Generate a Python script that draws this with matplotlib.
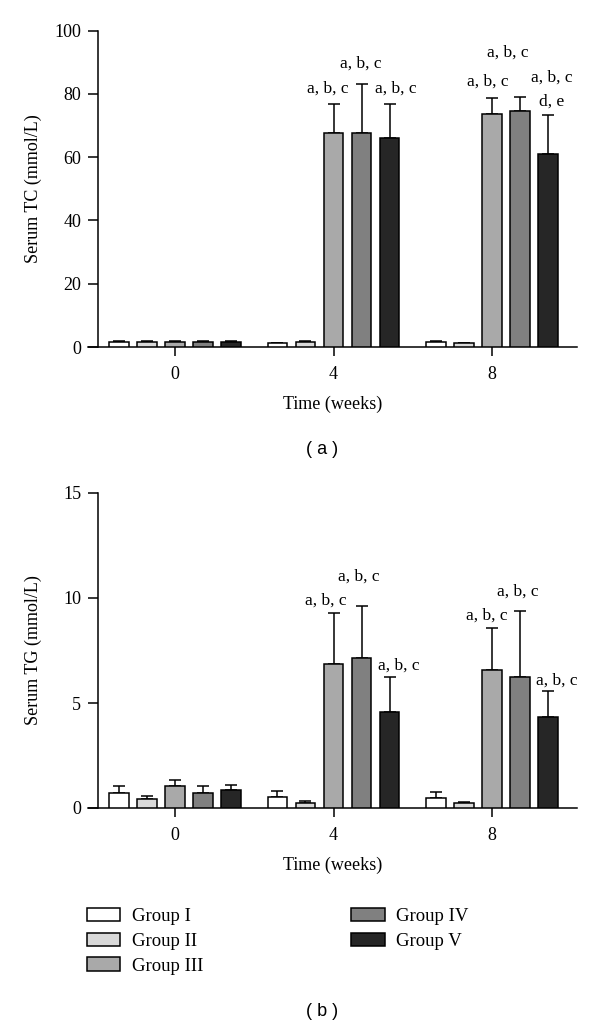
import numpy as np
import matplotlib
matplotlib.use("Agg")
import matplotlib.pyplot as plt
from matplotlib.patches import Patch

plt.rcParams['font.family'] = ['Liberation Serif', 'DejaVu Serif']

# ---------------- data ----------------
weeks = ["0", "4", "8"]
groups = ["Group I", "Group II", "Group III", "Group IV", "Group V"]
colors = ["#ffffff", "#d9d9d9", "#a9a9a9", "#808080", "#262626"]

# Serum TC (mmol/L): rows = weeks, cols = groups
tc_mean = [[1.7, 1.7, 1.7, 1.7, 1.7],
           [1.2, 1.6, 67.7, 67.7, 66.2],
           [1.6, 1.2, 73.8, 74.5, 61.0]]
tc_err = [[0.3, 0.3, 0.3, 0.3, 0.3],
          [0.2, 0.3, 9.2, 15.3, 10.7],
          [0.3, 0.2, 4.8, 4.5, 12.2]]
tc_labels = [[None, None, None, None, None],
             [None, None, "a, b, c", "a, b, c", "a, b, c"],
             [None, None, "a, b, c", "a, b, c", "a, b, c\nd, e"]]

# Serum TG (mmol/L)
tg_mean = [[0.73, 0.41, 1.03, 0.73, 0.87],
           [0.51, 0.25, 6.87, 7.15, 4.55],
           [0.46, 0.24, 6.57, 6.23, 4.32]]
tg_err = [[0.34, 0.18, 0.29, 0.32, 0.21],
          [0.32, 0.10, 2.41, 2.47, 1.67],
          [0.30, 0.06, 2.02, 3.15, 1.26]]
tg_labels = [[None, None, None, None, None],
             [None, None, "a, b, c", "a, b, c", "a, b, c"],
             [None, None, "a, b, c", "a, b, c", "a, b, c"]]

# label placement (gap above error bar as axis fraction; horizontal shift in x units)
tc_gap = [[0, 0, 0, 0, 0], [0.047, 0.065, 0.047], [0.054, 0.14, 0.044]]
tc_dx = [[0, 0, 0, 0, 0], [-0.036, -0.005, 0.041], [-0.027, -0.077, 0.024]]
tg_gap = [[0, 0, 0, 0, 0], [0.040, 0.094, 0.038], [0.037, 0.062, 0.032]]
tg_dx = [[0, 0, 0, 0, 0], [-0.048, -0.019, 0.06], [-0.036, -0.017, 0.056]]

W, H = 600, 1026
fig = plt.figure(figsize=(W / 100, H / 100), dpi=100)

bar_w = 0.123
step = 0.177
x_left, x_right = -0.549, 2.536
spine_x = -0.486


def make_panel(ax, mean, err, labels, gaps, dxs, ymax, yticks, ylabel):
    mean = np.array(mean)
    err = np.array(err)
    centers = np.arange(len(weeks))
    for gi in range(len(groups)):
        xs = centers + (gi - 2) * step
        ax.bar(xs, mean[:, gi], width=bar_w, color=colors[gi],
               edgecolor='black', linewidth=1.1, zorder=3)
        ax.errorbar(xs, mean[:, gi], yerr=[np.zeros(len(weeks)), err[:, gi]],
                    fmt='none', ecolor='black', elinewidth=1.1, capsize=4.5,
                    capthick=1.1, zorder=2)
    for wi in range(len(weeks)):
        k = 0
        for gi in range(len(groups)):
            lab = labels[wi][gi]
            if lab is None:
                continue
            x = centers[wi] + (gi - 2) * step + dxs[wi][k]
            top = mean[wi, gi] + err[wi, gi]
            y = top + gaps[wi][k] * ymax
            if "\n" in lab:
                l1, l2 = lab.split("\n")
                ax.text(x, y, l2, ha='center', va='center', fontsize=12.5)
                ax.text(x, y + 0.075 * ymax, l1, ha='center', va='center', fontsize=12.5)
            else:
                ax.text(x, y, lab, ha='center', va='center', fontsize=12.5)
            k += 1

    ax.set_xlim(x_left, x_right)
    ax.set_ylim(0, ymax)
    ax.set_yticks(yticks)
    ax.set_xticks(centers)
    ax.set_xticklabels(weeks)
    for s in ['top', 'right']:
        ax.spines[s].set_visible(False)
    ax.spines['left'].set_position(('data', spine_x))
    ax.spines['left'].set_linewidth(1.1)
    ax.spines['bottom'].set_linewidth(1.1)
    ax.tick_params(axis='y', direction='out', length=7, width=1.1, pad=5, labelsize=13)
    ax.tick_params(axis='x', direction='out', length=6.5, width=1.1, pad=7, labelsize=13)
    ax.set_ylabel(ylabel, fontsize=13)
    ax.yaxis.set_label_coords(-0.094, 0.5)
    ax.set_xlabel("Time (weeks)", fontsize=13, labelpad=9.5)


def frac_rect(left_px, right_px, bottom_px, top_px):
    return [left_px / W, 1 - bottom_px / H, (right_px - left_px) / W, (bottom_px - top_px) / H]


ax1 = fig.add_axes(frac_rect(88, 577, 347, 30.7))
make_panel(ax1, tc_mean, tc_err, tc_labels, tc_gap, tc_dx, 100, [0, 20, 40, 60, 80, 100],
           "Serum TC (mmol/L)")

ax2 = fig.add_axes(frac_rect(88, 577, 808, 493))
make_panel(ax2, tg_mean, tg_err, tg_labels, tg_gap, tg_dx, 15, [0, 5, 10, 15],
           "Serum TG (mmol/L)")

fig.text(322 / W, 1 - 449 / H, "( a )", ha='center', va='center', fontsize=13,
         family=['Liberation Sans', 'DejaVu Sans'])
fig.text(322 / W, 1 - 1012 / H, "( b )", ha='center', va='center', fontsize=13,
         family=['Liberation Sans', 'DejaVu Sans'])

handles = [Patch(facecolor=c, edgecolor='black', linewidth=1.1) for c in colors]
fig.legend(handles, groups, loc='upper left', bbox_to_anchor=(81 / W, 1 - 902 / H),
           ncol=2, frameon=False, fontsize=13.5, handlelength=1.8, handleheight=0.75,
           handletextpad=0.6, labelspacing=0.4, columnspacing=7.9,
           borderaxespad=0, borderpad=0.3)

fig.savefig("out.png", dpi=100)
